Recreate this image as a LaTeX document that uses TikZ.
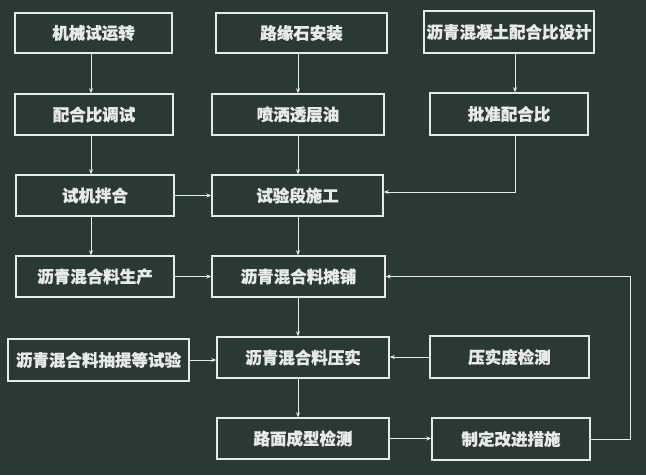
\documentclass[tikz,border=0pt]{standalone}
\usepackage{fontspec}
\setmainfont[FakeBold=0.6]{Noto Sans CJK SC}
\usetikzlibrary{arrows.meta}
\definecolor{bgc}{RGB}{42,56,54}
\definecolor{fgc}{RGB}{232,234,232}
\begin{document}
\begin{tikzpicture}[x=1pt,y=-1pt,
  box/.style={draw=fgc, line width=1.5pt, text=fgc, inner sep=0pt, font=\fontsize{16.5}{18}\selectfont\bfseries, minimum height=41pt},
  arr/.style={draw=fgc, line width=1pt, -{Stealth[length=5pt,width=4pt]}}]
\fill[bgc] (0,0) rectangle (646,475);
\useasboundingbox (0,0) rectangle (646,475);
% column 1
\node[box, minimum width=157pt, minimum height=40pt] (A) at (93.5,33) {机械试运转};
\node[box, minimum width=158pt] (B) at (94,114.5) {配合比调试};
\node[box, minimum width=158pt] (C) at (95,195.5) {试机拌合};
\node[box, minimum width=158pt] (D) at (95,276.5) {沥青混合料生产};
\node[box, minimum width=181pt, minimum height=42pt] (E) at (98.5,360) {沥青混合料抽提等试验};
% column 2
\node[box, minimum width=171pt, minimum height=40pt] (F) at (301.5,33) {路缘石安装};
\node[box, minimum width=172pt] (G) at (298,114.5) {喷洒透层油};
\node[box, minimum width=171pt] (H) at (297.5,195.5) {试验段施工};
\node[box, minimum width=173pt] (I) at (298.5,276.5) {沥青混合料摊铺};
\node[box, minimum width=172pt] (J) at (303,357.5) {沥青混合料压实};
\node[box, minimum width=172pt] (K) at (303,438.5) {路面成型检测};
% column 3
\node[box, minimum width=170pt, minimum height=42pt] (L) at (509,32) {沥青混凝土配合比设计};
\node[box, minimum width=158pt, minimum height=42pt] (M) at (509,114) {批准配合比};
\node[box, minimum width=159pt, minimum height=42pt] (N) at (509.5,357) {压实度检测};
\node[box, minimum width=158pt, minimum height=42pt] (O) at (511,439) {制定改进措施};
% guide coordinates
\coordinate (c1) at (91,0);
\coordinate (c2) at (298,0);
\coordinate (c3) at (515,0);
\coordinate (r) at (630,0);
\coordinate (hy) at (0,192);
% connectors
\draw[arr] (A.south -| c1) -- (B.north -| c1);
\draw[arr] (B.south -| c1) -- (C.north -| c1);
\draw[arr] (C.south -| c1) -- (D.north -| c1);
\draw[arr] (F.south -| c2) -- (G.north -| c2);
\draw[arr] (G.south -| c2) -- (H.north -| c2);
\draw[arr] (H.south -| c2) -- (I.north -| c2);
\draw[arr] (I.south -| c2) -- (J.north -| c2);
\draw[arr] (J.south -| c2) -- (K.north -| c2);
\draw[arr] (L.south -| c3) -- (M.north -| c3);
\draw[arr] (M.south -| c3) -- (c3 |- hy) -- (H.east |- hy);
\draw[arr] (C.east) -- (H.west |- C.east);
\draw[arr] (D.east) -- (I.west |- D.east);
\draw[arr] (E.east) -- (J.west |- E.east);
\draw[arr] (N.west) -- (J.east |- N.west);
\draw[arr] (K.east) -- (O.west |- K.east);
\draw[arr] (O.east) -- (O.east -| r) |- (I.east);
\end{tikzpicture}
\end{document}
